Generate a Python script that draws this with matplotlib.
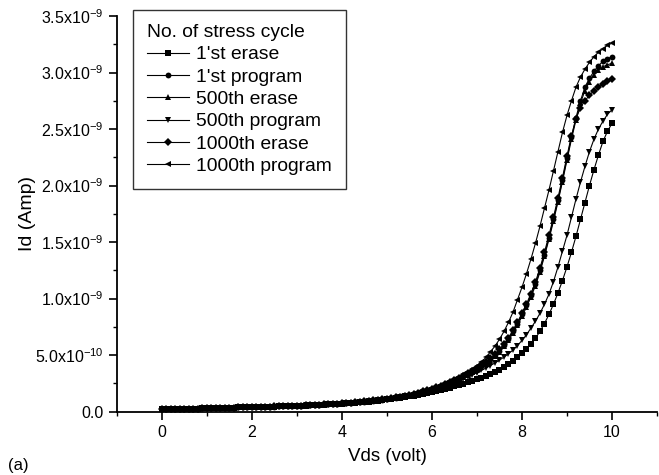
import numpy as np
import matplotlib
matplotlib.use('Agg')
import matplotlib.pyplot as plt
from matplotlib.ticker import MultipleLocator, FixedLocator

plt.rcParams['font.family'] = ['Liberation Sans', 'DejaVu Sans']
plt.rcParams['mathtext.fontset'] = 'custom'
plt.rcParams['mathtext.rm'] = 'Liberation Sans'

# Vds sweep, 0 to 10 V in 0.1 V steps
vds = np.round(np.arange(0, 101) * 0.1, 1)

# Id in nA
erase_1st = [
    0.020, 0.021, 0.022, 0.023, 0.024, 0.025, 0.026, 0.027, 0.028, 0.029,
    0.030, 0.031, 0.032, 0.033, 0.034, 0.035, 0.036, 0.037, 0.038, 0.039,
    0.040, 0.041, 0.042, 0.043, 0.044, 0.045, 0.046, 0.047, 0.048, 0.050,
    0.051, 0.053, 0.054, 0.056, 0.058, 0.060, 0.062, 0.064, 0.066, 0.068,
    0.071, 0.074, 0.077, 0.080, 0.083, 0.086, 0.090, 0.094, 0.098, 0.103,
    0.108, 0.113, 0.118, 0.123, 0.129, 0.135, 0.141, 0.148, 0.155, 0.162,
    0.170, 0.180, 0.190, 0.201, 0.212, 0.223, 0.235, 0.247, 0.260, 0.273,
    0.287, 0.302, 0.318, 0.335, 0.353, 0.373, 0.395, 0.420, 0.448, 0.480,
    0.515, 0.555, 0.600, 0.650, 0.710, 0.780, 0.860, 0.950, 1.050, 1.160,
    1.280, 1.410, 1.550, 1.700, 1.850, 2.000, 2.140, 2.270, 2.390, 2.480,
    2.550]
program_1st = [
    0.020, 0.021, 0.022, 0.023, 0.024, 0.025, 0.026, 0.027, 0.028, 0.029,
    0.030, 0.031, 0.032, 0.033, 0.034, 0.035, 0.036, 0.037, 0.038, 0.039,
    0.040, 0.041, 0.042, 0.043, 0.044, 0.045, 0.047, 0.048, 0.049, 0.051,
    0.052, 0.054, 0.056, 0.058, 0.060, 0.062, 0.064, 0.066, 0.068, 0.071,
    0.073, 0.076, 0.079, 0.082, 0.086, 0.090, 0.094, 0.098, 0.102, 0.107,
    0.112, 0.118, 0.125, 0.132, 0.140, 0.148, 0.157, 0.167, 0.177, 0.188,
    0.200, 0.213, 0.227, 0.242, 0.258, 0.275, 0.293, 0.312, 0.333, 0.355,
    0.380, 0.405, 0.433, 0.465, 0.500, 0.540, 0.590, 0.645, 0.710, 0.780,
    0.860, 0.940, 1.030, 1.130, 1.250, 1.390, 1.540, 1.700, 1.870, 2.050,
    2.240, 2.430, 2.600, 2.750, 2.870, 2.950, 3.010, 3.060, 3.100, 3.120,
    3.140]
erase_500 = [
    0.020, 0.021, 0.022, 0.023, 0.024, 0.025, 0.026, 0.027, 0.028, 0.029,
    0.030, 0.031, 0.032, 0.033, 0.034, 0.035, 0.036, 0.037, 0.038, 0.039,
    0.040, 0.041, 0.042, 0.043, 0.044, 0.045, 0.047, 0.048, 0.049, 0.051,
    0.052, 0.054, 0.056, 0.058, 0.060, 0.062, 0.064, 0.066, 0.068, 0.071,
    0.073, 0.076, 0.079, 0.082, 0.086, 0.090, 0.094, 0.098, 0.102, 0.107,
    0.112, 0.118, 0.124, 0.131, 0.139, 0.147, 0.156, 0.165, 0.175, 0.186,
    0.198, 0.210, 0.224, 0.238, 0.254, 0.270, 0.288, 0.307, 0.327, 0.349,
    0.372, 0.397, 0.424, 0.455, 0.490, 0.530, 0.578, 0.632, 0.695, 0.765,
    0.842, 0.925, 1.015, 1.115, 1.235, 1.375, 1.525, 1.685, 1.855, 2.035,
    2.225, 2.410, 2.580, 2.730, 2.840, 2.920, 2.980, 3.020, 3.050, 3.070,
    3.080]
program_500 = [
    0.020, 0.021, 0.022, 0.023, 0.024, 0.025, 0.026, 0.027, 0.028, 0.029,
    0.030, 0.031, 0.032, 0.033, 0.034, 0.035, 0.036, 0.037, 0.038, 0.039,
    0.040, 0.041, 0.042, 0.043, 0.044, 0.045, 0.046, 0.047, 0.049, 0.050,
    0.052, 0.053, 0.055, 0.057, 0.059, 0.061, 0.063, 0.065, 0.067, 0.070,
    0.072, 0.075, 0.078, 0.081, 0.084, 0.088, 0.092, 0.096, 0.100, 0.105,
    0.110, 0.116, 0.122, 0.128, 0.135, 0.142, 0.150, 0.158, 0.167, 0.178,
    0.190, 0.203, 0.216, 0.230, 0.245, 0.260, 0.275, 0.291, 0.308, 0.326,
    0.345, 0.365, 0.386, 0.408, 0.431, 0.456, 0.483, 0.512, 0.545, 0.585,
    0.630, 0.680, 0.740, 0.800, 0.870, 0.950, 1.040, 1.150, 1.280, 1.420,
    1.560, 1.720, 1.880, 2.030, 2.170, 2.300, 2.410, 2.500, 2.570, 2.630,
    2.670]
erase_1000 = [
    0.020, 0.021, 0.022, 0.023, 0.024, 0.025, 0.026, 0.027, 0.028, 0.029,
    0.030, 0.031, 0.032, 0.033, 0.034, 0.035, 0.036, 0.037, 0.038, 0.039,
    0.040, 0.041, 0.042, 0.043, 0.044, 0.046, 0.047, 0.048, 0.050, 0.051,
    0.053, 0.054, 0.056, 0.058, 0.060, 0.062, 0.064, 0.066, 0.069, 0.071,
    0.074, 0.077, 0.080, 0.083, 0.087, 0.091, 0.095, 0.099, 0.103, 0.108,
    0.113, 0.119, 0.126, 0.133, 0.141, 0.149, 0.158, 0.168, 0.179, 0.190,
    0.202, 0.215, 0.229, 0.244, 0.260, 0.278, 0.297, 0.317, 0.338, 0.361,
    0.386, 0.412, 0.441, 0.474, 0.510, 0.552, 0.600, 0.655, 0.720, 0.792,
    0.870, 0.952, 1.045, 1.148, 1.270, 1.410, 1.560, 1.720, 1.890, 2.070,
    2.260, 2.440, 2.590, 2.690, 2.750, 2.800, 2.840, 2.870, 2.900, 2.925,
    2.945]
program_1000 = [
    0.020, 0.021, 0.022, 0.023, 0.024, 0.025, 0.026, 0.027, 0.028, 0.029,
    0.030, 0.031, 0.032, 0.033, 0.034, 0.035, 0.036, 0.037, 0.038, 0.039,
    0.040, 0.041, 0.042, 0.043, 0.044, 0.045, 0.047, 0.048, 0.049, 0.051,
    0.052, 0.054, 0.056, 0.058, 0.060, 0.062, 0.064, 0.066, 0.068, 0.071,
    0.074, 0.077, 0.080, 0.083, 0.087, 0.091, 0.095, 0.099, 0.104, 0.109,
    0.115, 0.121, 0.128, 0.135, 0.143, 0.151, 0.160, 0.170, 0.181, 0.193,
    0.206, 0.220, 0.235, 0.251, 0.268, 0.287, 0.307, 0.329, 0.353, 0.378,
    0.405, 0.440, 0.480, 0.530, 0.580, 0.640, 0.710, 0.790, 0.880, 0.990,
    1.100, 1.220, 1.350, 1.490, 1.640, 1.800, 1.960, 2.130, 2.300, 2.470,
    2.620, 2.750, 2.870, 2.960, 3.030, 3.090, 3.140, 3.180, 3.210, 3.240,
    3.260]

labels = ["1'st erase", "1'st program", "500th erase", "500th program",
          "1000th erase", "1000th program"]
markers = ['s', 'o', '^', 'v', 'D', '<']
series = [erase_1st, program_1st, erase_500, program_500, erase_1000, program_1000]

fig = plt.figure(figsize=(6.59, 4.75), dpi=100)
ax = fig.add_axes([0.1775, 0.1333, 0.8194, 0.833])

for vals, lab, mk in zip(series, labels, markers):
    ms = 3.6 if mk == 'D' else 4.2
    ax.plot(vds, np.array(vals) * 1e-9, color='black', lw=0.8,
            marker=mk, ms=ms, markeredgewidth=0, label=lab)

ax.set_xlim(-1, 11)
ax.set_ylim(0, 3.5e-9)

ax.xaxis.set_major_locator(FixedLocator([0, 2, 4, 6, 8, 10]))
ax.xaxis.set_minor_locator(FixedLocator([-1, 1, 3, 5, 7, 9, 11]))
ax.yaxis.set_minor_locator(MultipleLocator(0.25e-9))

ytick_labels = ['0.0', r'5.0x10$^{-10}$', r'1.0x10$^{-9}$', r'1.5x10$^{-9}$',
                r'2.0x10$^{-9}$', r'2.5x10$^{-9}$', r'3.0x10$^{-9}$', r'3.5x10$^{-9}$']
ax.set_yticks(np.arange(8) * 0.5e-9)
ax.set_yticklabels(ytick_labels)

ax.spines['top'].set_visible(False)
ax.spines['right'].set_visible(False)
for s in ['left', 'bottom']:
    ax.spines[s].set_linewidth(1.3)
ax.tick_params(which='major', direction='out', length=6, width=1.2, labelsize=11.5)
ax.tick_params(which='minor', direction='out', length=3, width=1.0)

ax.set_xlabel('Vds (volt)', fontsize=13.5)
ax.set_ylabel('Id (Amp)', fontsize=14)
ax.xaxis.set_label_coords(0.5, -0.092)
ax.yaxis.set_label_coords(-0.15, 0.5)

leg = ax.legend(title='No. of stress cycle', loc='upper left',
                bbox_to_anchor=(0.0296, 1.015), borderaxespad=0,
                fontsize=13.9, title_fontsize=13.9, frameon=True, fancybox=False,
                handlelength=2.2, handletextpad=0.35, labelspacing=0.25,
                borderpad=0.72, markerscale=1.0)
leg._legend_box.align = 'left'
leg.get_frame().set_edgecolor('black')
leg.get_frame().set_linewidth(1.0)

fig.text(0.012, 0.01, '(a)', fontsize=12)

fig.savefig('out.png', dpi=100)
